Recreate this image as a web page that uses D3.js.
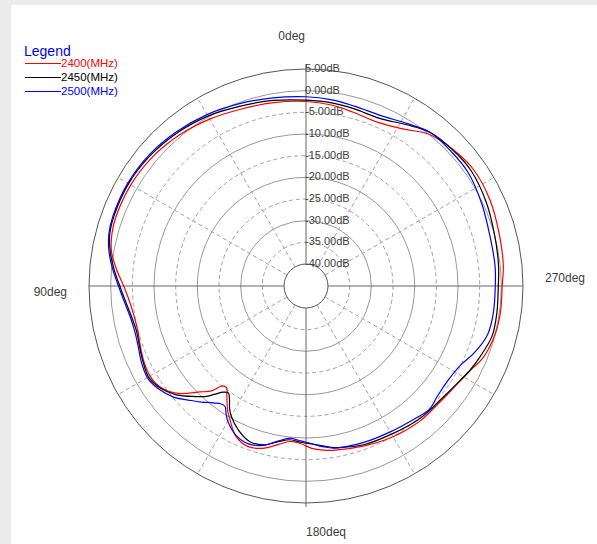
<!DOCTYPE html>
<html>
<head>
<meta charset="utf-8">
<script src="https://cdn.jsdelivr.net/npm/d3@7"></script>
<style>
  html, body { margin: 0; padding: 0; background: #ebebeb; }
  svg { display: block; }
  text { font-family: "Liberation Sans", Arial, sans-serif; }
</style>
</head>
<body>
<svg id="chart" width="597" height="544"></svg>
<script>
// ---- data (angle in deg, counter-clockwise from top; gain in dB) ----
const angles = [0, 10, 20, 30, 40, 50, 60, 70, 75, 80, 85, 90, 95, 100, 105, 110, 115, 120, 125, 130, 135, 138, 140, 142, 144, 146, 148, 150, 155, 160, 165, 170, 174, 178, 182, 186, 190, 200, 210, 220, 225, 230, 237, 243, 248, 255, 262, 270, 276, 285, 295, 305, 313, 321, 328, 336, 345, 352];
const series2400 = [-2.5, -2.1, -1.6, -0.6, 0.4, 1.2, 1.6, 1.6, 1.3, 0.5, -1.2, -3.0, -4.2, -4.8, -4.9, -4.4, -3.8, -3.5, -4.2, -6.5, -10.5, -12.5, -15.0, -15.3, -14.0, -12.5, -11.0, -9.8, -6.8, -5.7, -6.3, -7.9, -9.0, -8.7, -7.6, -7.0, -6.6, -5.8, -4.9, -4.3, -4.3, -4.1, -3.5, -2.4, -1.0, -0.1, 0.2, 0.2, 0.7, 1.1, 1.8, 2.0, 1.2, 0.0, -2.4, -3.8, -3.5, -2.9];
const series2450 = [-2.2, -1.6, -0.9, 0.2, 1.1, 1.8, 2.2, 2.1, 1.8, 0.8, -0.6, -2.1, -3.3, -4.2, -4.6, -4.2, -3.6, -3.1, -4.0, -6.0, -9.0, -10.8, -12.5, -14.0, -14.6, -13.5, -11.8, -10.5, -8.3, -6.9, -7.1, -8.6, -9.4, -9.0, -8.6, -8.0, -7.2, -6.1, -5.6, -4.8, -4.6, -4.4, -3.6, -2.5, -1.7, -0.6, -0.6, -0.7, -0.4, 0.0, 0.8, 1.4, 1.1, 0.5, -1.2, -2.8, -2.7, -2.4];
const series2500 = [-1.4, -1.0, -0.3, 0.6, 1.4, 2.1, 2.4, 2.3, 2.0, 1.1, -0.3, -1.8, -3.0, -3.9, -4.2, -3.9, -3.2, -2.8, -3.6, -5.2, -7.7, -9.0, -10.0, -10.8, -11.5, -11.6, -10.3, -9.0, -7.0, -6.3, -7.0, -8.8, -9.8, -9.3, -8.7, -7.8, -7.1, -6.6, -6.2, -5.4, -4.8, -5.5, -5.7, -5.0, -3.4, -1.7, -1.4, -1.4, -1.2, -1.1, -0.3, 0.6, 0.6, 0.5, -0.9, -2.1, -2.1, -1.7];
const seriesNames = ["2400(MHz)", "2450(MHz)", "2500(MHz)"];
const seriesColors = ["#ff0000", "#000000", "#0000ff"];
const ringValues = [5, 0, -5, -10, -15, -20, -25, -30, -35, -40];
const spokeAngles = [30, 60, 120, 150, 210, 240, 300, 330];
const degLabels = ["0deg", "90deg", "180deq", "270deg"];

// ---- layout ----
const svg = d3.select("#chart");
const cx = 306, cy = 286;
const r = d3.scaleLinear().domain([-40, 5]).range([22, 217]);
const rad = a => a * Math.PI / 180;
const px = (a, rr) => cx - rr * Math.sin(rad(a));
const py = (a, rr) => cy - rr * Math.cos(rad(a));

// white panel
svg.append("rect").attr("x", 11).attr("y", 5).attr("width", 597 - 11).attr("height", 544 - 5).attr("fill", "#ffffff");

const g = svg.append("g");

// rings
ringValues.forEach(v => {
  const solid = (v % 10 === 0) || v === 5;
  const edge = v === 5 || v === -40;
  g.append("circle")
    .attr("cx", cx).attr("cy", cy).attr("r", r(v))
    .attr("fill", "none")
    .attr("stroke", edge ? "#555555" : (solid ? "#999999" : "#a0a0a0"))
    .attr("stroke-width", 1)
    .attr("stroke-dasharray", solid ? null : "4,3");
});

// dashed spokes
spokeAngles.forEach(a => {
  g.append("line")
    .attr("x1", px(a, r(-40))).attr("y1", py(a, r(-40)))
    .attr("x2", px(a, r(5))).attr("y2", py(a, r(5)))
    .attr("stroke", "#a0a0a0").attr("stroke-width", 1).attr("stroke-dasharray", "4,3");
});

// main axes
g.append("line").attr("x1", cx).attr("x2", cx).attr("y1", cy - r(5) - 5).attr("y2", cy - r(-40)).attr("stroke", "#666666");
g.append("line").attr("x1", cx).attr("x2", cx).attr("y1", cy + r(-40)).attr("y2", cy + r(5) + 4).attr("stroke", "#666666");
g.append("line").attr("x1", cx - r(5)).attr("x2", cx - r(-40)).attr("y1", cy).attr("y2", cy).attr("stroke", "#666666");
g.append("line").attr("x1", cx + r(-40)).attr("x2", cx + r(5)).attr("y1", cy).attr("y2", cy).attr("stroke", "#666666");

// ring labels
ringValues.forEach(v => {
  g.append("text")
    .attr("x", cx - 1).attr("y", cy - r(v))
    .attr("dominant-baseline", "middle")
    .attr("font-size", "11px").attr("fill", "#404040")
    .text(v.toFixed(2) + "dB");
});

// degree labels
const degPos = [
  {x: cx - 1, y: 37, anchor: "end"},
  {x: 67, y: 293, anchor: "end"},
  {x: cx, y: 533, anchor: "start"},
  {x: 545, y: 279, anchor: "start"}
];
degLabels.forEach((t, i) => {
  g.append("text").attr("x", degPos[i].x).attr("y", degPos[i].y)
    .attr("text-anchor", degPos[i].anchor).attr("dominant-baseline", "middle")
    .attr("font-size", "12px").attr("fill", "#404040").text(t);
});

// curves
const line = d3.lineRadial()
  .angle(d => -rad(d[0]))
  .radius(d => r(d[1]))
  .curve(d3.curveCatmullRomClosed.alpha(0.5));
const allSeries = [series2400, series2450, series2500];
allSeries.forEach((vals, i) => {
  const pts = angles.map((a, j) => [a, vals[j]]);
  g.append("path")
    .attr("transform", `translate(${cx},${cy})`)
    .attr("d", line(pts))
    .attr("fill", "none")
    .attr("stroke", seriesColors[i])
    .attr("stroke-width", 1.2);
});

// legend
const lg = svg.append("g");
lg.append("text").attr("x", 24).attr("y", 52).attr("dominant-baseline", "middle")
  .attr("font-size", "14px").attr("fill", "#0000ff").text("Legend");
seriesNames.forEach((n, i) => {
  const y = 64 + i * 14;
  lg.append("line").attr("x1", 25).attr("x2", 61).attr("y1", y - 0.5).attr("y2", y - 0.5)
    .attr("stroke", seriesColors[i]).attr("stroke-width", 1);
  lg.append("text").attr("x", 61).attr("y", y).attr("dominant-baseline", "middle")
    .attr("font-size", "11.5px").attr("fill", seriesColors[i]).text(n);
});
</script>
</body>
</html>
